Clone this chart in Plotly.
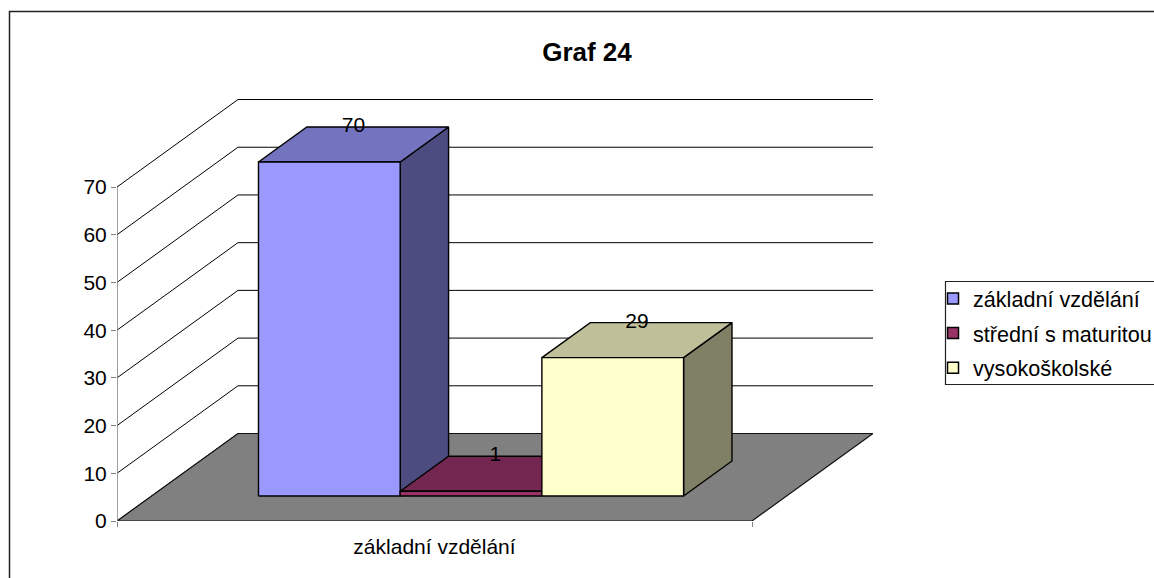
import plotly.graph_objects as go

TITLE = "Graf 24"
CATEGORY = "základní vzdělání"
SERIES = ["základní vzdělání", "střední s maturitou", "vysokoškolské"]
VALUES = [70, 1, 29]
FRONT = ["#9999FF", "#993366", "#FFFFCC"]
TOP = ["#7373BF", "#732650", "#BFBF99"]
SIDE = ["#4C4C80", "#4D1933", "#808066"]
YTICKS = [0, 10, 20, 30, 40, 50, 60, 70]

W, H = 1154, 578
L, R, T, B = 117, 873, 99, 521
FONT = "Liberation Sans, Arial, sans-serif"
FS = 21

SHX = 121 / 635      # oblique shift of full depth, in category units
SHV = 18.34          # oblique shift of full depth, in value units
YMAX = 88.45         # top of the value axis range
D0, D1 = 0.286, 0.686  # bar depth extent
BW = 141.7 / 635     # bar width
X0 = 0.1683          # first bar start


def pt(x, v, d):
    return x + d * SHX, v + d * SHV


def poly(points):
    xy = [pt(*p) for p in points]
    xy.append(xy[0])
    return [a for a, _ in xy], [b for _, b in xy]


def px(p):
    return (p - L) / (R - L)


def py(p):
    return (B - p) / (B - T)


fig = go.Figure()

# walls: gridlines on the back wall and the left side wall
gx, gy = [], []
for v in YTICKS:
    for p in [(0, v, 0), (0, v, 1), (1, v, 1)]:
        a, b = pt(*p)
        gx.append(a)
        gy.append(b)
    gx.append(None)
    gy.append(None)
fig.add_trace(go.Scatter(x=gx, y=gy, mode="lines", line=dict(color="#000000", width=1),
                         showlegend=False, hoverinfo="skip", cliponaxis=False))

# floor
fx, fy = poly([(0, 0, 0), (1, 0, 0), (1, 0, 1), (0, 0, 1)])
fig.add_trace(go.Scatter(x=fx, y=fy, mode="lines", fill="toself", fillcolor="#808080",
                         line=dict(color="#111111", width=1.2),
                         showlegend=False, hoverinfo="skip", cliponaxis=False))

# value axis line
fig.add_trace(go.Scatter(x=[0, 0], y=[0, YTICKS[-1]], mode="lines",
                         line=dict(color="#808080", width=1.5),
                         showlegend=False, hoverinfo="skip", cliponaxis=False))

# bars
for i, v in enumerate(VALUES):
    a, b = X0 + i * BW, X0 + (i + 1) * BW
    faces = [
        ([(b, 0, D0), (b, 0, D1), (b, v, D1), (b, v, D0)], SIDE[i]),
        ([(a, v, D0), (b, v, D0), (b, v, D1), (a, v, D1)], TOP[i]),
        ([(a, 0, D0), (b, 0, D0), (b, v, D0), (a, v, D0)], FRONT[i]),
    ]
    for pts, color in faces:
        x, y = poly(pts)
        fig.add_trace(go.Scatter(x=x, y=y, mode="lines", fill="toself", fillcolor=color,
                                 line=dict(color="#000000", width=1.4),
                                 showlegend=False, hoverinfo="skip", cliponaxis=False))

# value labels: centred on the top face horizontally, sitting on its back edge
lx, ly = [], []
for i, v in enumerate(VALUES):
    lx.append(pt(X0 + (i + 0.5) * BW, v, (D0 + D1) / 2)[0])
    ly.append(pt(X0 + (i + 0.5) * BW, v, D1)[1])
fig.add_trace(go.Scatter(x=lx, y=ly, mode="text", text=[str(v) for v in VALUES],
                         textposition="middle center",
                         textfont=dict(family=FONT, size=FS, color="#000000"),
                         showlegend=False, hoverinfo="skip", cliponaxis=False))

# legend entries
for i, name in enumerate(SERIES):
    fig.add_trace(go.Scatter(x=[None], y=[None], mode="markers", name=name, legendgroup=name,
                             marker=dict(symbol="square", size=11, color=FRONT[i],
                                         line=dict(color="#000000", width=1.5))))

fig.update_layout(
    width=W, height=H,
    margin=dict(l=L, r=W - R, t=T, b=H - B, autoexpand=False),
    paper_bgcolor="#FFFFFF", plot_bgcolor="rgba(0,0,0,0)",
    font=dict(family=FONT, size=FS, color="#000000"),
    title=dict(text=TITLE, font=dict(family=FONT, size=26, weight="bold", color="#000000"),
               xref="container", yref="container", x=587 / W, y=1 - 52 / H,
               xanchor="center", yanchor="middle"),
    xaxis=dict(range=[0, 1 + SHX], showgrid=False, zeroline=False, showline=False,
               tickmode="array", tickvals=[0.5], ticktext=[CATEGORY],
               ticks="outside", ticklen=7, tickcolor="rgba(0,0,0,0)",
               minor=dict(tickmode="array", tickvals=[0, 1], ticks="outside", ticklen=5,
                          tickcolor="#808080", tickwidth=1, showgrid=False),
               tickfont=dict(family=FONT, size=FS)),
    yaxis=dict(range=[0, YMAX], showgrid=False, zeroline=False, showline=False,
               tickmode="array", tickvals=YTICKS,
               ticks="outside", ticklen=5, tickcolor="#808080", tickwidth=1,
               tickfont=dict(family=FONT, size=FS)),
    legend=dict(x=px(933), y=py(278), xanchor="left", yanchor="top",
                bgcolor="rgba(0,0,0,0)", borderwidth=0, traceorder="grouped",
                tracegroupgap=3.5, itemclick=False, itemdoubleclick=False,
                font=dict(family=FONT, size=21.6)),
    shapes=[
        dict(type="rect", xref="paper", yref="paper", layer="below",
             x0=px(9.5), x1=px(W + 20), y0=py(H + 20), y1=py(11.5),
             line=dict(color="#222222", width=1.5), fillcolor="rgba(0,0,0,0)"),
        dict(type="rect", xref="paper", yref="paper", layer="below",
             x0=px(945.5), x1=px(W + 20), y0=py(384.5), y1=py(281.5),
             line=dict(color="#222222", width=1.2), fillcolor="rgba(0,0,0,0)"),
    ],
)

fig.write_html(
    "out.html",
    config={"displayModeBar": False},
    post_script="document.body.style.margin='0';document.body.style.overflow='hidden';",
)
